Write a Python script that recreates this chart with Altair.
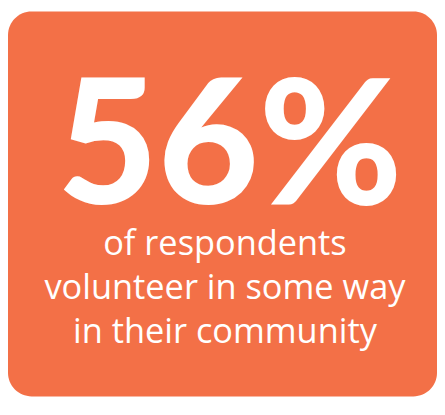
import altair as alt
import pandas as pd

# Content of the stat card
stat_value = ["56%"]
caption_lines = ["of respondents", "volunteer in some way", "in their community"]

ORANGE = "#F37047"
W, H = 437, 392

stat_df = pd.DataFrame({"label": stat_value})
cap_df = pd.DataFrame({"label": ["\n".join(caption_lines)]})

big = alt.Chart(stat_df).mark_text(
    font="Lato", fontWeight=900, fontSize=177, color="white",
    align="center", baseline="alphabetic"
).encode(
    text="label:N",
    x=alt.value(226),
    y=alt.value(196),
)

caption = alt.Chart(cap_df).mark_text(
    font="Open Sans", fontWeight=400, fontSize=35, color="white",
    align="center", baseline="alphabetic", lineBreak="\n", lineHeight=45
).encode(
    text="label:N",
    x=alt.value(221),
    y=alt.value(248),
)

chart = alt.layer(big, caption).properties(
    width=W, height=H,
    padding=0,
    autosize=alt.AutoSizeParams(type="none"),
).configure_view(
    fill=ORANGE, stroke=None, cornerRadius=24,
)

chart.save("out.html", embed_options={"renderer": "svg", "actions": False})
